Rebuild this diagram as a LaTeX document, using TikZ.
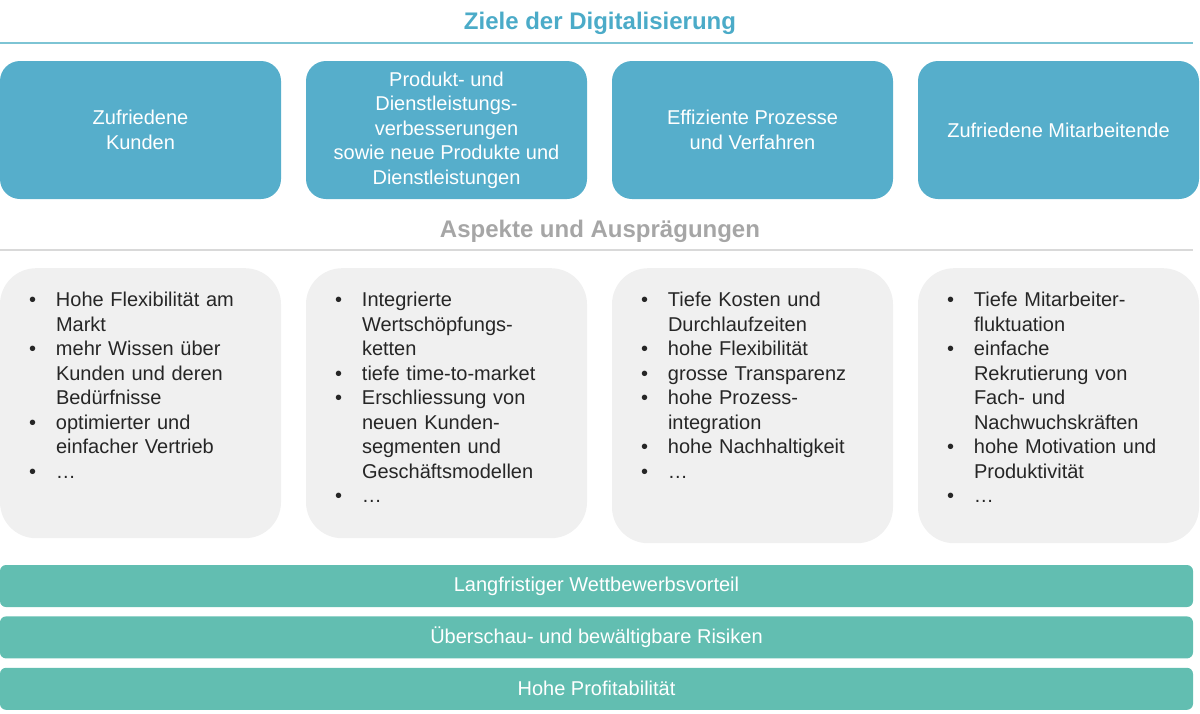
\documentclass[tikz,border=0pt]{standalone}
\usepackage{fontspec}
\setmainfont{Liberation Sans}
\usetikzlibrary{positioning}

\definecolor{titleblue}{RGB}{75,171,200}
\definecolor{ruleblue}{RGB}{125,196,212}
\definecolor{goalblue}{RGB}{86,174,203}
\definecolor{headgray}{RGB}{166,166,166}
\definecolor{rulegray}{RGB}{217,217,217}
\definecolor{aspectgray}{RGB}{240,240,240}
\definecolor{bodytext}{RGB}{38,38,38}
\definecolor{barteal}{RGB}{98,190,177}

\newcommand{\bodyfont}{\fontsize{20}{24.5}\selectfont}
\newcommand{\headfont}{\fontsize{24}{28}\selectfont\bfseries}
\newcommand{\bitem}[1]{\par\leftskip=27pt\noindent\llap{\makebox[27pt][l]{\textbullet}}#1\par}

\begin{document}
\begin{tikzpicture}[x=1pt,y=-1pt,
  goal/.style={fill=goalblue,rounded corners=20pt,minimum width=281pt,minimum height=138pt,
    text=white,align=center,inner sep=0pt,font=\bodyfont},
  aspect/.style={fill=aspectgray,rounded corners=36pt,minimum width=281pt,inner sep=0pt},
  aspecttext/.style={anchor=north west,inner sep=0pt,text width=245pt,
    text=bodytext,font=\bodyfont},
  bar/.style={fill=barteal,rounded corners=6pt,minimum width=1193pt,minimum height=42pt,
    text=white,inner sep=0pt,font=\bodyfont},
  heading/.style={font=\headfont,inner sep=0pt}]
  \useasboundingbox (0,0) rectangle (1200,713);

  % Ziele
  \node[heading,text=titleblue] (title) at (600,23) {Ziele der Digitalisierung};
  \draw[ruleblue,line width=2pt] (0,43) -- (1193,43);
  \foreach \i/\txt in {1/{Zufriedene\\Kunden},
      2/{Produkt- und\\Dienstleistungs-\\verbesserungen\\sowie neue Produkte und\\Dienstleistungen},
      3/{Effiziente Prozesse\\und Verfahren},
      4/{Zufriedene Mitarbeitende}}
    \node[goal] (goal\i) at ({140.5+306*(\i-1)},130) {\txt};

  % Aspekte
  \node[heading,text=headgray] (aspects) at (600,231) {Aspekte und Ausprägungen};
  \draw[rulegray,line width=2pt] (0,250) -- (1193,250);
  \foreach \i/\h in {1/270,2/270,3/275,4/275}
    \node[aspect,minimum height=\h pt,anchor=north] (asp\i) at ({140.5+306*(\i-1)},268) {};

  \node[aspecttext] (asp1txt) at ([xshift=29pt,yshift=-14pt]asp1.north west) {%
    \bitem{Hohe Flexibilität am\\Markt}
    \bitem{mehr Wissen über\\Kunden und deren\\Bedürfnisse}
    \bitem{optimierter und\\einfacher Vertrieb}
    \bitem{…}};
  \node[aspecttext] (asp2txt) at ([xshift=29pt,yshift=-14pt]asp2.north west) {%
    \bitem{Integrierte\\Wertschöpfungs-\\ketten}
    \bitem{tiefe time-to-market}
    \bitem{Erschliessung von\\neuen Kunden-\\segmenten und\\Geschäftsmodellen}
    \bitem{…}};
  \node[aspecttext] (asp3txt) at ([xshift=29pt,yshift=-14pt]asp3.north west) {%
    \bitem{Tiefe Kosten und\\Durchlaufzeiten}
    \bitem{hohe Flexibilität}
    \bitem{grosse Transparenz}
    \bitem{hohe Prozess-\\integration}
    \bitem{hohe Nachhaltigkeit}
    \bitem{…}};
  \node[aspecttext] (asp4txt) at ([xshift=29pt,yshift=-14pt]asp4.north west) {%
    \bitem{Tiefe Mitarbeiter-\\fluktuation}
    \bitem{einfache\\Rekrutierung von\\Fach- und\\Nachwuchskräften}
    \bitem{hohe Motivation und\\Produktivität}
    \bitem{…}};

  % Nutzen
  \node[bar] (bar1) at (596.5,586) {Langfristiger Wettbewerbsvorteil};
  \node[bar,below=9pt of bar1] (bar2) {Überschau- und bewältigbare Risiken};
  \node[bar,below=9pt of bar2] (bar3) {Hohe Profitabilität};
\end{tikzpicture}
\end{document}
